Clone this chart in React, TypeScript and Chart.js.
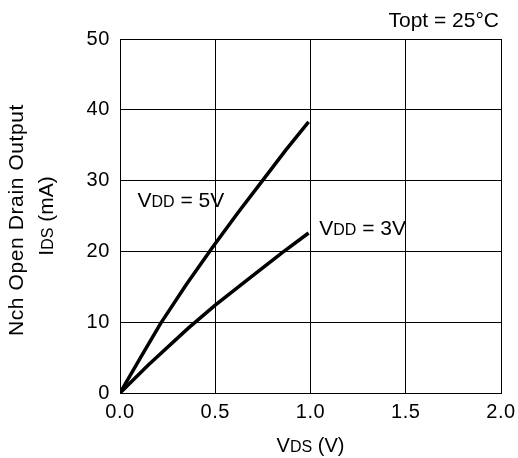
import React, { useEffect, useRef } from "react";
import { Chart, registerables } from "chart.js";

Chart.register(...registerables);

// ---- data ----
const vds5: number[] = [0, 0.11, 0.215, 0.35, 0.486, 0.62, 0.748, 0.87, 0.99];
const ids5: number[] = [0, 5.1, 9.9, 15.4, 20.6, 25.5, 30, 34.3, 38.3];
const vds3: number[] = [0, 0.15, 0.36, 0.5, 0.65, 0.85, 0.99];
const ids3: number[] = [0, 4.0, 9.2, 12.4, 15.6, 19.8, 22.6];
const xMin = 0, xMax = 2.0, xStep = 0.5;
const yMin = 0, yMax = 50, yStep = 10;
const label5V = { v: 0.092, i: 26.3 };
const label3V = { v: 1.046, i: 22.3 };

const FONT = '"Liberation Sans", Arial, Helvetica, sans-serif';

type Seg = { t: string; s: number };

function richWidth(ctx: CanvasRenderingContext2D, segs: Seg[]) {
  let w = 0;
  for (const g of segs) {
    ctx.font = `${g.s}px ${FONT}`;
    w += ctx.measureText(g.t).width;
  }
  return w;
}

function drawRich(ctx: CanvasRenderingContext2D, x: number, y: number, segs: Seg[], align: "left" | "center" | "right") {
  const w = richWidth(ctx, segs);
  let cx = align === "left" ? x : align === "center" ? x - w / 2 : x - w;
  ctx.textAlign = "left";
  ctx.textBaseline = "alphabetic";
  for (const g of segs) {
    ctx.font = `${g.s}px ${FONT}`;
    ctx.fillText(g.t, cx, y);
    cx += ctx.measureText(g.t).width;
  }
}

const spacingPlugin = {
  id: "spacing",
  beforeDraw(chart: any) {
    (chart.ctx as any).letterSpacing = "0.6px";
  },
};

const textPlugin = {
  id: "richText",
  afterDraw(chart: any) {
    const ctx: CanvasRenderingContext2D = chart.ctx;
    const xs = chart.scales.x;
    const ys = chart.scales.y;
    const ca = chart.chartArea;
    ctx.save();
    (ctx as any).letterSpacing = "0px";
    ctx.fillStyle = "#000";
    // curve labels
    drawRich(ctx, xs.getPixelForValue(label5V.v), ys.getPixelForValue(label5V.i),
      [{ t: "V", s: 21 }, { t: "DD", s: 16 }, { t: " = 5V", s: 21 }], "left");
    drawRich(ctx, xs.getPixelForValue(label3V.v), ys.getPixelForValue(label3V.i),
      [{ t: "V", s: 21 }, { t: "DD", s: 16 }, { t: " = 3V", s: 21 }], "left");
    // condition
    drawRich(ctx, ca.right - 2, ca.top - 12, [{ t: "Topt = 25°C", s: 21 }], "right");
    // x title
    drawRich(ctx, (ca.left + ca.right) / 2, 452,
      [{ t: "V", s: 20 }, { t: "DS", s: 16 }, { t: " (V)", s: 20 }], "center");
    // y title (rotated)
    const cy = (ca.top + ca.bottom) / 2;
    (ctx as any).letterSpacing = "0.6px";
    ctx.save();
    ctx.translate(23, cy + 4);
    ctx.rotate(-Math.PI / 2);
    drawRich(ctx, 0, 0, [{ t: "Nch Open Drain Output", s: 21 }], "center");
    ctx.restore();
    (ctx as any).letterSpacing = "0px";
    ctx.save();
    ctx.translate(53, cy);
    ctx.rotate(-Math.PI / 2);
    drawRich(ctx, 0, 0, [{ t: "I", s: 21 }, { t: "DS", s: 16 }, { t: " (mA)", s: 21 }], "center");
    ctx.restore();
    ctx.restore();
  },
};

export default function App() {
  const ref = useRef<HTMLCanvasElement | null>(null);
  useEffect(() => {
    document.body.style.margin = "0";
    const canvas = ref.current!;
    const chart = new Chart(canvas, {
      type: "line",
      data: {
        datasets: [
          {
            label: "VDD = 5V",
            data: vds5.map((v, k) => ({ x: v, y: ids5[k] })),
            borderColor: "#000",
            borderWidth: 3.5,
            pointRadius: 0,
            tension: 0,
            borderJoinStyle: "round",
            fill: false,
          },
          {
            label: "VDD = 3V",
            data: vds3.map((v, k) => ({ x: v, y: ids3[k] })),
            borderColor: "#000",
            borderWidth: 3.5,
            pointRadius: 0,
            tension: 0,
            borderJoinStyle: "round",
            fill: false,
          },
        ],
      },
      options: {
        responsive: false,
        animation: false,
        devicePixelRatio: 1,
        layout: { padding: { left: 0, top: 39, right: 17, bottom: 0 } },
        plugins: { legend: { display: false }, tooltip: { enabled: false }, title: { display: false } },
        scales: {
          x: {
            type: "linear",
            min: xMin,
            max: xMax,
            afterFit: (s: any) => { s.height = 65; s.paddingLeft = 0; s.paddingRight = 0; },
            ticks: {
              stepSize: xStep,
              color: "#000",
              padding: 7,
              maxRotation: 0,
              font: { size: 20, family: FONT },
              callback: (v: any) => Number(v).toFixed(1),
            },
            grid: { color: "#000", lineWidth: 1, drawTicks: false },
            border: { color: "#000", width: 1 },
          },
          y: {
            type: "linear",
            min: yMin,
            max: yMax,
            afterFit: (s: any) => { s.width = 120; s.paddingTop = 0; s.paddingBottom = 0; },
            ticks: {
              stepSize: yStep,
              color: "#000",
              padding: 10,
              font: { size: 20, family: FONT },
            },
            grid: { color: "#000", lineWidth: 1, drawTicks: false },
            border: { color: "#000", width: 1 },
          },
        },
      },
      plugins: [spacingPlugin, textPlugin],
    });
    return () => chart.destroy();
  }, []);
  return <canvas ref={ref} width={518} height={458} style={{ display: "block", width: 518, height: 458 }} />;
}
